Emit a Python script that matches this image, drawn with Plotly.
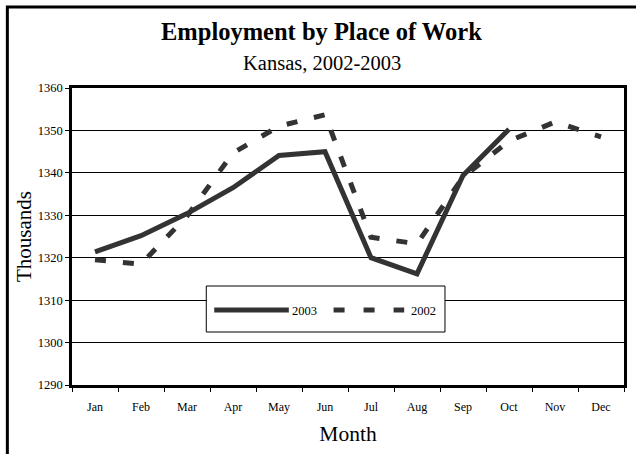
import plotly.graph_objects as go

months = ["Jan", "Feb", "Mar", "Apr", "May", "Jun", "Jul", "Aug", "Sep", "Oct", "Nov", "Dec"]
emp_2003 = [1321.4, 1325.2, 1330.4, 1336.5, 1344.1, 1345.0, 1320.0, 1316.2, 1339.4, 1350.3, None, None]
emp_2002 = [1319.5, 1318.5, 1329.8, 1344.7, 1351.0, 1353.7, 1324.8, 1323.3, 1339.0, 1347.5, 1352.0, 1348.5]
y_ticks = [1290, 1300, 1310, 1320, 1330, 1340, 1350, 1360]

FONT = "Liberation Serif, Times New Roman, serif"
LINE_COLOR = "#333333"

fig = go.Figure()
fig.add_trace(go.Scatter(x=months, y=emp_2002, mode="lines", name="2002",
                         line=dict(color=LINE_COLOR, width=5, dash="11px,17px"),
                         showlegend=False))
fig.add_trace(go.Scatter(x=months, y=emp_2003, mode="lines", name="2003",
                         line=dict(color=LINE_COLOR, width=5),
                         showlegend=False))

L, R, T, B = 72, 9, 88, 69
W, H = 636, 454
pw, ph = W - L - R, H - T - B

def px(x):
    return (x - L) / pw

def py(y):
    return (H - B - y) / ph

shapes = [
    # outer frame
    dict(type="rect", xref="paper", yref="paper", x0=px(7), x1=px(650), y0=py(470), y1=py(7),
         line=dict(color="black", width=3), fillcolor="rgba(0,0,0,0)", layer="below"),
    # legend box
    dict(type="rect", xref="paper", yref="paper", x0=px(207), x1=px(447), y0=py(332), y1=py(286),
         line=dict(color="black", width=1), fillcolor="white", layer="above"),
    dict(type="line", xref="paper", yref="paper", x0=px(215), x1=px(290), y0=py(310), y1=py(310),
         line=dict(color=LINE_COLOR, width=5), layer="above"),
    dict(type="line", xref="paper", yref="paper", x0=px(335), x1=px(406), y0=py(310), y1=py(310),
         line=dict(color=LINE_COLOR, width=5, dash="11px,19px"), layer="above"),
]

annotations = [
    dict(text="<b>Employment by Place of Work</b>", xref="paper", yref="paper",
         x=px(323), y=py(31), xanchor="center", yanchor="middle", showarrow=False,
         font=dict(family=FONT, size=24.5, color="black")),
    dict(text="Kansas, 2002-2003", xref="paper", yref="paper",
         x=px(323), y=py(63), xanchor="center", yanchor="middle", showarrow=False,
         font=dict(family=FONT, size=20.5, color="black")),
    dict(text="2003", xref="paper", yref="paper", x=px(291), y=py(311),
         xanchor="left", yanchor="middle", showarrow=False,
         font=dict(family=FONT, size=12.5, color="black")),
    dict(text="2002", xref="paper", yref="paper", x=px(411), y=py(311),
         xanchor="left", yanchor="middle", showarrow=False,
         font=dict(family=FONT, size=12.5, color="black")),
]

fig.update_layout(
    width=W, height=H,
    margin=dict(l=L, r=R, t=T, b=B, pad=0),
    paper_bgcolor="white", plot_bgcolor="white",
    font=dict(family=FONT, color="black"),
    shapes=shapes, annotations=annotations,
    showlegend=False,
)
fig.update_xaxes(
    type="category", categoryorder="array", categoryarray=months,
    range=[-0.5, 11.5], tickson="boundaries", ticks="outside", ticklen=4,
    tickcolor="black", tickwidth=1, showgrid=False, zeroline=False,
    showline=True, linecolor="black", linewidth=2.5, mirror=True,
    tickfont=dict(family=FONT, size=12), ticklabelstandoff=9,
    title=dict(text="Month", font=dict(family=FONT, size=21.5), standoff=13),
)
fig.update_yaxes(
    range=[1290, 1360], tickvals=y_ticks, ticks="outside", ticklen=4,
    tickcolor="black", tickwidth=1, showgrid=True, gridcolor="black", gridwidth=1,
    zeroline=False, showline=True, linecolor="black", linewidth=2.5, mirror=True,
    tickfont=dict(family=FONT, size=12.5),
    title=dict(text="Thousands", font=dict(family=FONT, size=21), standoff=1),
)

fig.write_html("out.html", config={"displayModeBar": False},
               post_script="document.body.style.margin='0';document.body.style.overflow='hidden';")
